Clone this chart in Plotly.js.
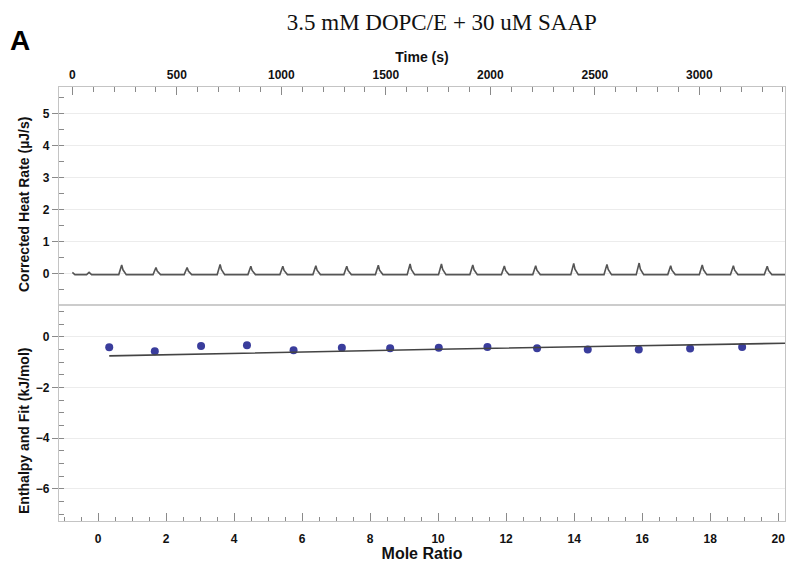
<!DOCTYPE html>
<html>
<head>
<meta charset="utf-8">
<script src="https://cdn.plot.ly/plotly-3.0.1.min.js"></script>
<style>html,body{margin:0;padding:0;background:#fff;}#chart{width:787px;height:562px;}</style>
</head>
<body>
<div id="chart"></div>
<script>
// ---- Data ----
var timeS = [0, 12, 68, 80, 92,
  222, 236, 242, 258,
  386, 400, 406, 422,
  535, 549, 555, 571,
  693, 707, 713, 729,
  840, 854, 860, 876,
  993, 1007, 1013, 1029,
  1151, 1165, 1171, 1187,
  1299, 1313, 1319, 1335,
  1450, 1464, 1470, 1486,
  1602, 1616, 1622, 1638,
  1752, 1766, 1772, 1788,
  1902, 1916, 1922, 1938,
  2053, 2067, 2073, 2089,
  2203, 2217, 2223, 2239,
  2385, 2399, 2405, 2421,
  2544, 2558, 2564, 2580,
  2698, 2712, 2718, 2734,
  2849, 2863, 2869, 2885,
  3000, 3014, 3020, 3036,
  3149, 3163, 3169, 3185,
  3311, 3325, 3331, 3347,
  3410];
var heatRate = [0.05, -0.02, -0.02, 0.05, -0.02,
  -0.02, 0.28, 0.13, -0.02,
  -0.02, 0.20, 0.09, -0.02,
  -0.02, 0.20, 0.09, -0.02,
  -0.02, 0.30, 0.14, -0.02,
  -0.02, 0.24, 0.11, -0.02,
  -0.02, 0.24, 0.11, -0.02,
  -0.02, 0.26, 0.12, -0.02,
  -0.02, 0.24, 0.11, -0.02,
  -0.02, 0.27, 0.12, -0.02,
  -0.02, 0.31, 0.14, -0.02,
  -0.02, 0.31, 0.14, -0.02,
  -0.02, 0.28, 0.13, -0.02,
  -0.02, 0.25, 0.11, -0.02,
  -0.02, 0.26, 0.12, -0.02,
  -0.02, 0.33, 0.15, -0.02,
  -0.02, 0.30, 0.14, -0.02,
  -0.02, 0.34, 0.15, -0.02,
  -0.02, 0.26, 0.12, -0.02,
  -0.02, 0.28, 0.13, -0.02,
  -0.02, 0.26, 0.12, -0.02,
  -0.02, 0.24, 0.11, -0.02,
  -0.02];

var moleRatio = [0.33, 1.67, 3.03, 4.38, 5.75, 7.17, 8.59, 10.02, 11.45, 12.91, 14.40, 15.90, 17.41, 18.94];
var enthalpy  = [-0.41, -0.57, -0.36, -0.33, -0.53, -0.43, -0.45, -0.43, -0.40, -0.45, -0.50, -0.50, -0.46, -0.40];

var fitMoleRatio = [0.33, 6, 10, 15, 20.2];
var fitEnthalpy  = [-0.75, -0.59, -0.49, -0.37, -0.25];

var chartTitle = "3.5 mM DOPC/E + 30 uM SAAP";
var panelLabel = "A";
var timeTitle = "Time (s)";
var moleTitle = "Mole Ratio";
var heatTitle = "Corrected Heat Rate (µJ/s)";
var enthalpyTitle = "Enthalpy and Fit (kJ/mol)";

// ---- Styling ----
var SANS = "Liberation Sans, Arial, sans-serif";
var frame = "#c4c4c4";
var grid = "#ececec";
var tickc = "#8a8a8a";
var split = 216 / 434;
var plotW = 726, plotH = 434, padL = 59, padT = 87;

var traces = [
  {x: timeS, y: heatRate, xaxis: "x2", yaxis: "y2", type: "scatter", mode: "lines",
   line: {color: "#555555", width: 1.6}, hoverinfo: "skip"},
  {x: moleRatio, y: enthalpy, xaxis: "x", yaxis: "y", type: "scatter", mode: "markers",
   marker: {color: "#3a3d9c", size: 8}},
  {x: fitMoleRatio, y: fitEnthalpy, xaxis: "x", yaxis: "y", type: "scatter", mode: "lines",
   line: {color: "#444444", width: 1.6}}
];

var tf = {family: SANS, size: 12, color: "#111", weight: "bold"};
var ytf = {family: SANS, size: 12, color: "#111", weight: "bold"};

function px2paperX(px) { return (px - padL) / plotW; }
function px2paperY(py) { return 1 - (py - padT) / plotH; }

var layout = {
  width: 787, height: 562,
  margin: {l: 59, r: 2, t: 87, b: 41},
  paper_bgcolor: "#fff", plot_bgcolor: "#fff",
  showlegend: false,
  title: {text: chartTitle, font: {family: "Liberation Serif, Times New Roman, serif", size: 23, color: "#111"},
          x: 415 / 787, xref: "paper", xanchor: "center", y: 1 - 22 / 562, yref: "container", yanchor: "middle"},
  xaxis: {domain: [0, 1], anchor: "y", range: [-1.147, 20.2], dtick: 2, tick0: 0,
          ticks: "inside", ticklen: 8, tickcolor: tickc, tickwidth: 1, ticklabelstandoff: 6,
          minor: {dtick: 0.5, ticks: "inside", ticklen: 4, tickcolor: tickc, showgrid: false},
          showline: true, linecolor: frame, linewidth: 1.2, mirror: false,
          showgrid: false, zeroline: false, tickfont: tf,
          title: {text: moleTitle, font: {family: SANS, size: 16, color: "#111", weight: "bold"}, standoff: 3}},
  yaxis: {domain: [0, split], anchor: "x", range: [-7.27, 1.26], dtick: 2, tick0: 0,
          ticks: "outside", ticklen: 6, tickcolor: tickc,
          minor: {dtick: 0.5, ticks: "inside", ticklen: 5, tickcolor: tickc, showgrid: false},
          showline: true, linecolor: frame, linewidth: 1.2, mirror: true,
          showgrid: true, gridcolor: grid, zeroline: false, tickfont: ytf},
  xaxis2: {domain: [0, 1], anchor: "y2", side: "top", range: [-64, 3410], dtick: 500, tick0: 0,
           ticks: "inside", ticklen: 8, tickcolor: tickc, ticklabelstandoff: 2,
           minor: {dtick: 100, ticks: "inside", ticklen: 5, tickcolor: tickc, showgrid: false},
           showline: true, linecolor: frame, linewidth: 1.2, mirror: false,
           showgrid: false, zeroline: false, tickfont: tf,
           title: {text: timeTitle, font: {family: SANS, size: 14, color: "#111", weight: "bold"}, standoff: 2}},
  yaxis2: {domain: [split, 1], anchor: "x2", range: [-0.97, 5.84], dtick: 1, tick0: 0,
           ticks: "outside", ticklen: 6, tickcolor: tickc,
           minor: {dtick: 0.5, ticks: "inside", ticklen: 5, tickcolor: tickc, showgrid: false},
           showline: true, linecolor: frame, linewidth: 1.2, mirror: true,
           showgrid: true, gridcolor: grid, zeroline: false, tickfont: ytf},
  shapes: [
    {type: "line", xref: "paper", yref: "paper", x0: 0, x1: 1, y0: split, y1: split,
     line: {color: "#9a9a9a", width: 1.2}}
  ],
  annotations: [
    {text: panelLabel, xref: "paper", yref: "paper", x: px2paperX(20), y: px2paperY(41),
     xanchor: "center", yanchor: "middle", showarrow: false,
     font: {family: SANS, size: 28, color: "#000", weight: "bold"}},
    {text: heatTitle, xref: "paper", yref: "paper", x: px2paperX(24), y: px2paperY(205),
     xanchor: "center", yanchor: "middle", textangle: -90, showarrow: false,
     font: {family: SANS, size: 14, color: "#111", weight: "bold"}},
    {text: enthalpyTitle, xref: "paper", yref: "paper", x: px2paperX(24), y: px2paperY(431),
     xanchor: "center", yanchor: "middle", textangle: -90, showarrow: false,
     font: {family: SANS, size: 14, color: "#111", weight: "bold"}}
  ]
};

Plotly.newPlot("chart", traces, layout, {displayModeBar: false, staticPlot: true});
</script>
</body>
</html>
